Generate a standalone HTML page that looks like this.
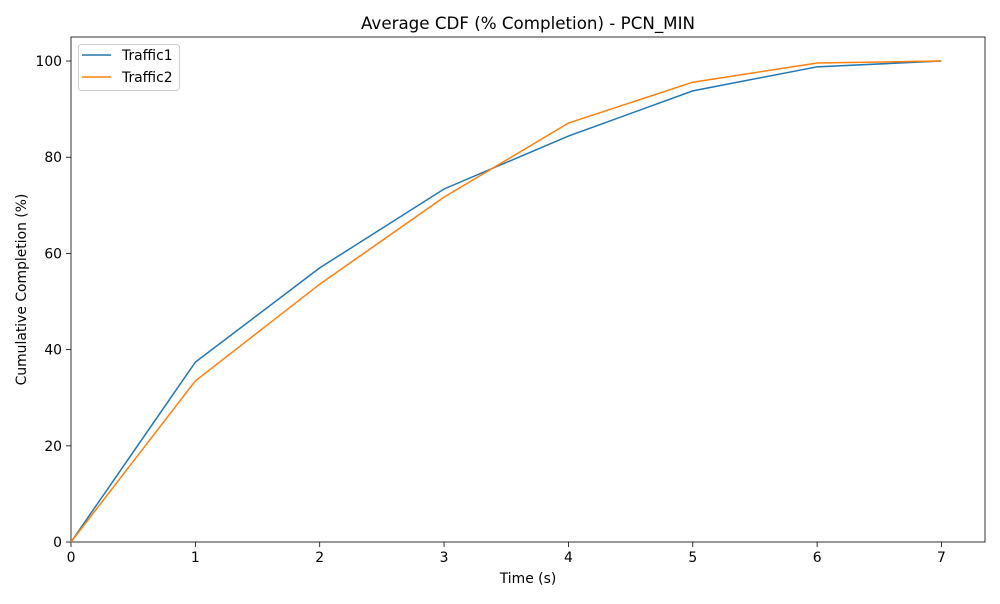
<!DOCTYPE html>
<html><head><meta charset="utf-8"><style>
body{margin:0;background:#fff;font-family:"DejaVu Sans","Liberation Sans",sans-serif;}
</style></head><body>
<svg id="chart" width="1000" height="600" xmlns="http://www.w3.org/2000/svg" font-family="DejaVu Sans, Liberation Sans, sans-serif"></svg>
<script>
const times=[0,1,2,3,4,5,6,7];
const traffic1=[0,37.4,57.0,73.4,84.4,93.8,98.8,100];
const traffic2=[0,33.5,53.6,71.7,87.1,95.6,99.6,100];
const xTicks=[0,1,2,3,4,5,6,7];
const yTicks=[0,20,40,60,80,100];
const L=71,R=985,T=37,B=542,XMAX=7.35,YMAX=105;
const sx=v=>L+(R-L)*v/XMAX, sy=v=>B-(B-T)*v/YMAX;
const svg=document.getElementById('chart');const NS='http://www.w3.org/2000/svg';
function mk(tag,attrs,parent){const e=document.createElementNS(NS,tag);for(const k in attrs)e.setAttribute(k,attrs[k]);(parent||svg).appendChild(e);return e;}
function txt(s,attrs,name){const e=mk('text',attrs);e.textContent=s;


return e;}
const frame=mk('rect',{x:L,y:T,width:R-L,height:B-T,fill:'none',stroke:'#000','stroke-width':0.8});


xTicks.forEach(t=>{const x=sx(t);const ln=mk('line',{x1:x,x2:x,y1:B,y2:B+5,stroke:'#000','stroke-width':0.8});


txt(String(t),{x:x,y:B+20,'font-size':13.9,'text-anchor':'middle'},'x-tick-label');});
yTicks.forEach(t=>{const y=sy(t);const ln=mk('line',{x1:L-5,x2:L,y1:y,y2:y,stroke:'#000','stroke-width':0.8});


txt(String(t),{x:L-9,y:y+5,'font-size':13.9,'text-anchor':'end'},'y-tick-label');});
function series(vals,color,name){const p=mk('polyline',{points:times.map((t,i)=>sx(t)+','+sy(vals[i])).join(' '),fill:'none',stroke:color,'stroke-width':1.5});

}
series(traffic1,'#1f77b4','traffic1-line');
series(traffic2,'#ff7f0e','traffic2-line');
txt('Average CDF (% Completion) - PCN_MIN',{x:(L+R)/2,y:29,'font-size':16.7,'text-anchor':'middle'},'chart-title');
txt('Time (s)',{x:(L+R)/2,y:583,'font-size':13.9,'text-anchor':'middle'},'x-axis-title');
txt('Cumulative Completion (%)',{x:26,y:(T+B)/2,'font-size':13.9,'text-anchor':'middle',transform:'rotate(-90 26 '+((T+B)/2)+')'},'y-axis-title');
const lg=mk('rect',{x:78.5,y:44.5,width:101,height:46,rx:3,fill:'#fff',stroke:'#ccc','stroke-width':1});


[['Traffic1','#1f77b4',55],['Traffic2','#ff7f0e',77]].forEach(([n,c,y])=>{const l=mk('line',{x1:82,x2:111,y1:y,y2:y,stroke:c,'stroke-width':1.5});


txt(n,{x:122,y:y+5,'font-size':13.9},'legend-entry');});
</script>
</body></html>
